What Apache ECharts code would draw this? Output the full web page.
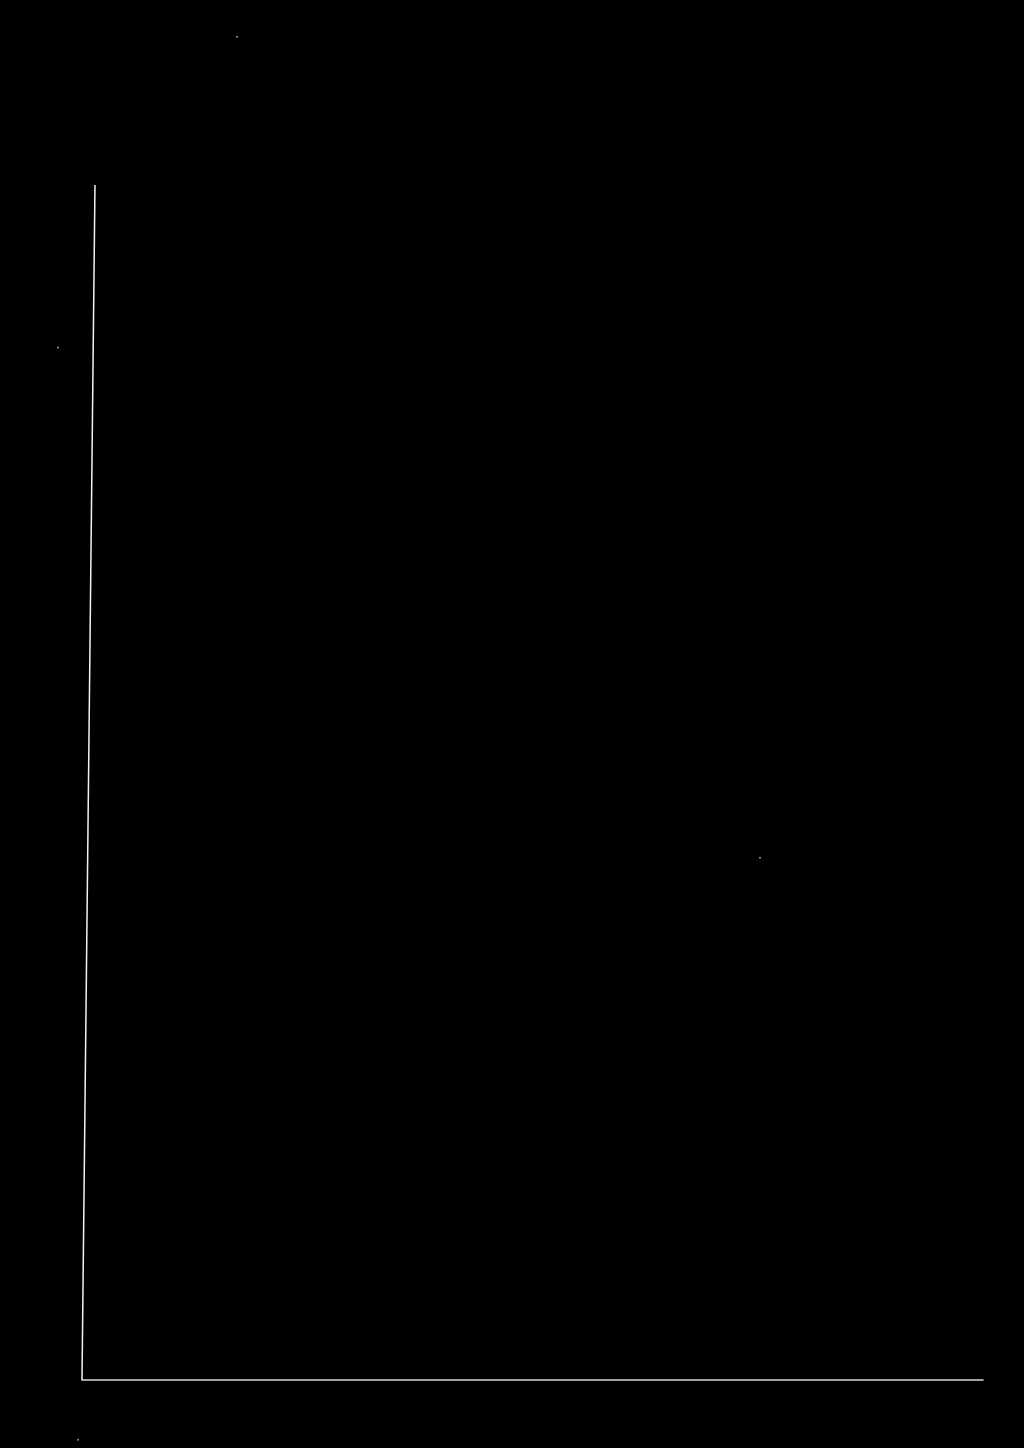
<!DOCTYPE html>
<html>
<head>
<meta charset="utf-8">
<script src="https://cdn.jsdelivr.net/npm/echarts@6/dist/echarts.min.js"></script>
<style>
  html, body { margin: 0; padding: 0; background: #000; }
  #main { width: 1024px; height: 1448px; }
</style>
</head>
<body>
<div id="main"></div>
<script>
// left edge of the frame, drawn a bit slanted like in the scan
var edgeX = [1.44, 0];
var edgeY = [100, 0];
// stray specks on the scan
var speckX = [17.2, -2.66, 75.25, -0.44];
var speckY = [112.4, 86.4, 43.7, -5.0];

var chart = echarts.init(document.getElementById('main'));

var option = {
    backgroundColor: '#000',
    animation: false,
    grid: {
        left: 82,
        right: 41,
        top: 185,
        bottom: 68
    },
    xAxis: {
        type: 'value',
        min: 0,
        max: 100,
        axisLine: {
            show: true,
            onZero: false,
            lineStyle: { color: '#d8d8d8', width: 1.5 }
        },
        axisTick: { show: false },
        axisLabel: { show: false },
        splitLine: { show: false }
    },
    yAxis: {
        type: 'value',
        min: 0,
        max: 100,
        axisLine: { show: false },
        axisTick: { show: false },
        axisLabel: { show: false },
        splitLine: { show: false }
    },
    series: [{
        type: 'line',
        data: edgeX.map(function (x, i) { return [x, edgeY[i]]; }),
        showSymbol: false,
        lineStyle: { color: '#f2f2f2', width: 1.5 }
    }, {
        type: 'scatter',
        clip: false,
        symbolSize: 2,
        data: speckX.map(function (x, i) { return [x, speckY[i]]; }),
        itemStyle: { color: '#bbb' }
    }]
};
chart.setOption(option);
</script>
</body>
</html>
